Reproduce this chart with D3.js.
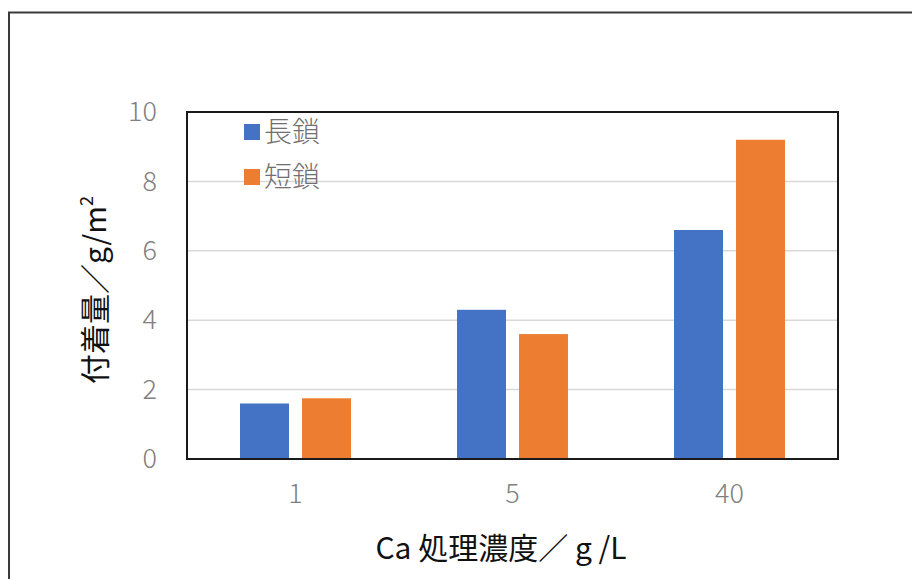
<!DOCTYPE html>
<html>
<head>
<meta charset="utf-8">
<script src="https://cdn.jsdelivr.net/npm/d3@7"></script>
<style>
  html, body { margin: 0; padding: 0; background: #fff; }
  svg { display: block; }
</style>
</head>
<body>
<svg id="chart" width="912" height="579"></svg>
<script>
// Ca treatment concentration (g/L) categories
const categories = ["1", "5", "40"];
// Deposition amount (g/m²) per chain type
const longChain = [1.6, 4.3, 6.6];
const shortChain = [1.75, 3.6, 9.2];
const seriesNames = ["長鎖", "短鎖"];
const seriesColors = ["#4472c4", "#ed7d31"];
const yTicks = [0, 2, 4, 6, 8, 10];

const svg = d3.select("#chart");
const W = 912, H = 579;

// outer frame
svg.append("rect")
  .attr("x", 9).attr("y", 12.5)
  .attr("width", W + 20).attr("height", H + 20)
  .attr("fill", "none").attr("stroke", "#3a3a3a").attr("stroke-width", 2);

const plot = { left: 187, right: 838, top: 112, bottom: 459 };

const x0 = d3.scaleBand()
  .domain(categories)
  .range([plot.left, plot.right])
  .paddingInner(0).paddingOuter(0);

const x1 = d3.scaleBand()
  .domain(seriesNames)
  .range([0, x0.bandwidth()])
  .paddingInner(0.21)
  .paddingOuter(0.855);

const y = d3.scaleLinear().domain([0, 10]).range([plot.bottom, plot.top]);

// gridlines
svg.append("g")
  .selectAll("line")
  .data(yTicks.filter(t => t > 0 && t < 10))
  .join("line")
  .attr("x1", plot.left).attr("x2", plot.right)
  .attr("y1", d => y(d)).attr("y2", d => y(d))
  .attr("stroke", "#d9d9d9").attr("stroke-width", 1.5);

// bars
const rows = categories.map((c, i) => ({ cat: c, values: [longChain[i], shortChain[i]] }));
svg.append("g")
  .selectAll("g")
  .data(rows)
  .join("g")
  .attr("transform", d => `translate(${x0(d.cat)},0)`)
  .selectAll("rect")
  .data(d => d.values.map((v, j) => ({ name: seriesNames[j], v, color: seriesColors[j] })))
  .join("rect")
  .attr("x", d => x1(d.name))
  .attr("width", x1.bandwidth())
  .attr("y", d => y(d.v))
  .attr("height", d => y(0) - y(d.v))
  .attr("fill", d => d.color);

// plot box
svg.append("rect")
  .attr("x", plot.left).attr("y", plot.top)
  .attr("width", plot.right - plot.left).attr("height", plot.bottom - plot.top)
  .attr("fill", "none").attr("stroke", "#1a1a1a").attr("stroke-width", 2);

const labelFont = "'Noto Sans CJK JP', 'Noto Sans', sans-serif";

// y axis labels
const yAxis = d3.axisLeft(y).tickValues(yTicks).tickSize(0).tickPadding(30);
const gy = svg.append("g").attr("transform", `translate(${plot.left},0)`).call(yAxis);
gy.select(".domain").remove();
gy.selectAll("text")
  .attr("font-family", labelFont)
  .attr("font-weight", 300)
  .attr("font-size", 27)
  .attr("fill", "#808080");

// x axis labels
const xAxis = d3.axisBottom(x0).tickSize(0).tickPadding(25);
const gx = svg.append("g").attr("transform", `translate(0,${plot.bottom})`).call(xAxis);
gx.select(".domain").remove();
gx.selectAll("text")
  .attr("font-family", labelFont)
  .attr("font-weight", 300)
  .attr("font-size", 27)
  .attr("fill", "#808080");

// legend
const legend = svg.append("g").attr("transform", "translate(244,124)");
seriesNames.forEach((name, i) => {
  const g = legend.append("g").attr("transform", `translate(0,${i * 45})`);
  g.append("rect").attr("width", 16).attr("height", 16).attr("fill", seriesColors[i]);
  g.append("text")
    .attr("x", 20).attr("y", 8).attr("dy", "0.36em")
    .attr("font-family", labelFont)
    .attr("font-weight", 300)
    .attr("font-size", 28)
    .attr("fill", "#707070")
    .text(name);
});

// axis titles
const yTitle = svg.append("text")
  .attr("transform", "translate(106,290) rotate(-90)")
  .attr("text-anchor", "middle")
  .attr("font-family", labelFont)
  .attr("font-size", 30)
  .attr("fill", "#111");
yTitle.append("tspan").text("付着量／g/m");
yTitle.append("tspan").attr("font-size", 18).attr("dy", -13).text("2");

svg.append("text")
  .attr("x", 501).attr("y", 559)
  .attr("text-anchor", "middle")
  .attr("font-family", labelFont)
  .attr("font-size", 30)
  .attr("fill", "#111")
  .text("Ca 処理濃度／ g /L");
</script>
</body>
</html>
